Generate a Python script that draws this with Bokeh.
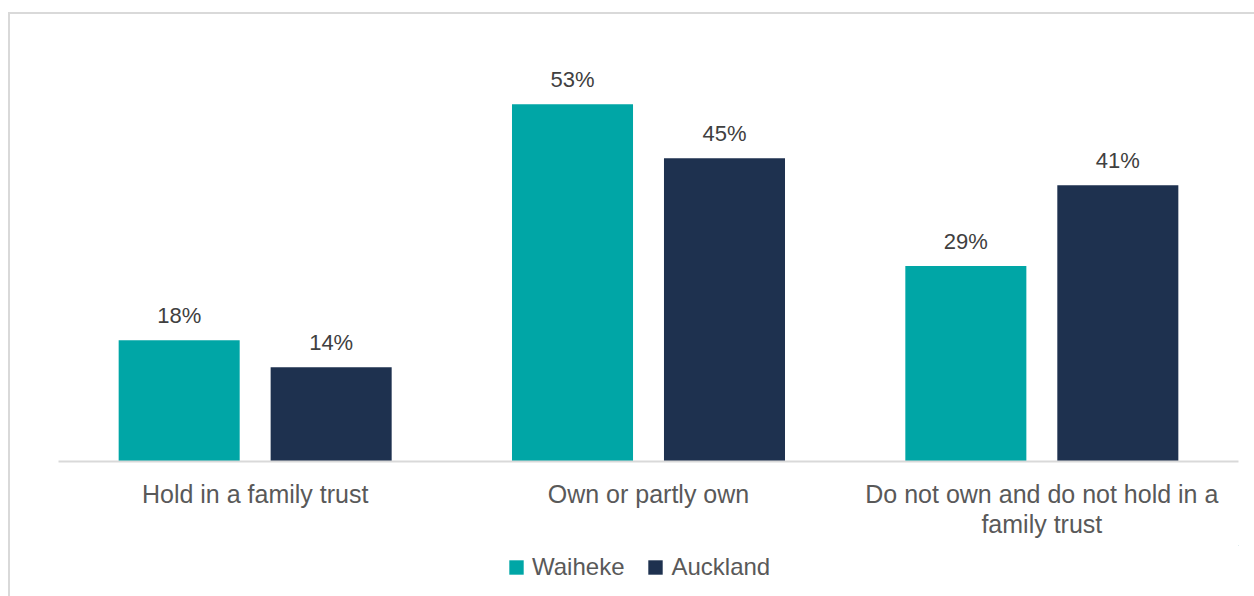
from bokeh.plotting import figure
from bokeh.models import ColumnDataSource, FactorRange, Legend, LegendItem, CDSView, IndexFilter
from bokeh.layouts import column
from bokeh.transform import dodge
from bokeh.core.properties import value
from bokeh.embed import file_html
from bokeh.resources import INLINE

categories = ["Hold in a family trust", "Own or partly own", "Do not own and do not hold in a\nfamily trust"]
series_names = ["Waiheke", "Auckland"]
waiheke = [18, 53, 29]
auckland = [14, 45, 41]
colors = ["#00A6A6", "#1E314F"]

FONT = "Liberation Sans"

src = ColumnDataSource(dict(
    cat=categories,
    waiheke=waiheke,
    auckland=auckland,
    waiheke_lbl=[f"{v}%" for v in waiheke],
    auckland_lbl=[f"{v}%" for v in auckland],
))

p = figure(
    x_range=FactorRange(factors=categories, range_padding=0),
    y_range=(0, 64.24),
    width=1244, height=531,
    output_backend="svg", toolbar_location=None,
    min_border_left=48, min_border_right=16, min_border_top=14, min_border_bottom=84,
)
p.outline_line_color = None
p.xgrid.visible = False
p.ygrid.visible = False
p.yaxis.visible = False
p.background_fill_color = "white"
p.border_fill_color = "white"

xa = p.xaxis[0]
xa.axis_line_color = "#d9d9d9"
xa.axis_line_width = 2
xa.major_tick_line_color = None
xa.minor_tick_line_color = None
xa.major_label_text_font = FONT
xa.major_label_text_font_size = "25px"
xa.major_label_text_color = "#595959"
xa.major_label_text_line_height = 1.1
xa.major_label_standoff = 18
xa.major_tick_out = 0
xa.major_tick_in = 0

fields = ["waiheke", "auckland"]
offsets = [-0.1932, 0.1932]
for f, off, c in zip(fields, offsets, colors):
    p.vbar(x=dodge("cat", off, range=p.x_range), top=f, width=0.3077, source=src,
           fill_color=c, line_color=None)
    p.text(x=dodge("cat", off, range=p.x_range), y=f, text=f + "_lbl", source=src,
           text_align="center", text_baseline="alphabetic", y_offset=-25,
           text_font=value(FONT), text_font_size="22px", text_color="#404040")

# legend strip below the chart (its own renderers sit outside the visible ranges;
# they exist only so the legend can draw its colour swatches)
lg = figure(width=1244, height=51, x_range=(0, 1), y_range=(0, 1),
            output_backend="svg", toolbar_location=None,
            min_border_left=0, min_border_right=0, min_border_top=0, min_border_bottom=0)
lg.axis.visible = False
lg.grid.visible = False
lg.outline_line_color = None
lg.background_fill_color = "white"
lg.border_fill_color = "white"
one_row = CDSView(filter=IndexFilter([0]))
legend_renderers = [
    lg.vbar(x=f, top=f, bottom=f, width=1, source=src, view=one_row,
            fill_color=c, line_color=None)
    for f, c in zip(fields, colors)
]

legend = Legend(
    items=[LegendItem(label=n, renderers=[r]) for n, r in zip(series_names, legend_renderers)],
    orientation="horizontal", location=(449, 15),
    glyph_width=18, glyph_height=18, label_height=24,
    label_text_font=FONT, label_text_font_size="24px", label_text_color="#595959",
    label_standoff=7, spacing=22, padding=0, margin=0,
    border_line_color=None, background_fill_alpha=0,
)
lg.add_layout(legend, "center")

layout = column(p, lg, spacing=0)
layout.styles = {
    "margin-left": "8px",
    "margin-top": "12px",
    "border-top": "2px solid #d9d9d9",
    "border-left": "2px solid #d9d9d9",
}

open("out.html", "w").write(file_html(layout, INLINE))
